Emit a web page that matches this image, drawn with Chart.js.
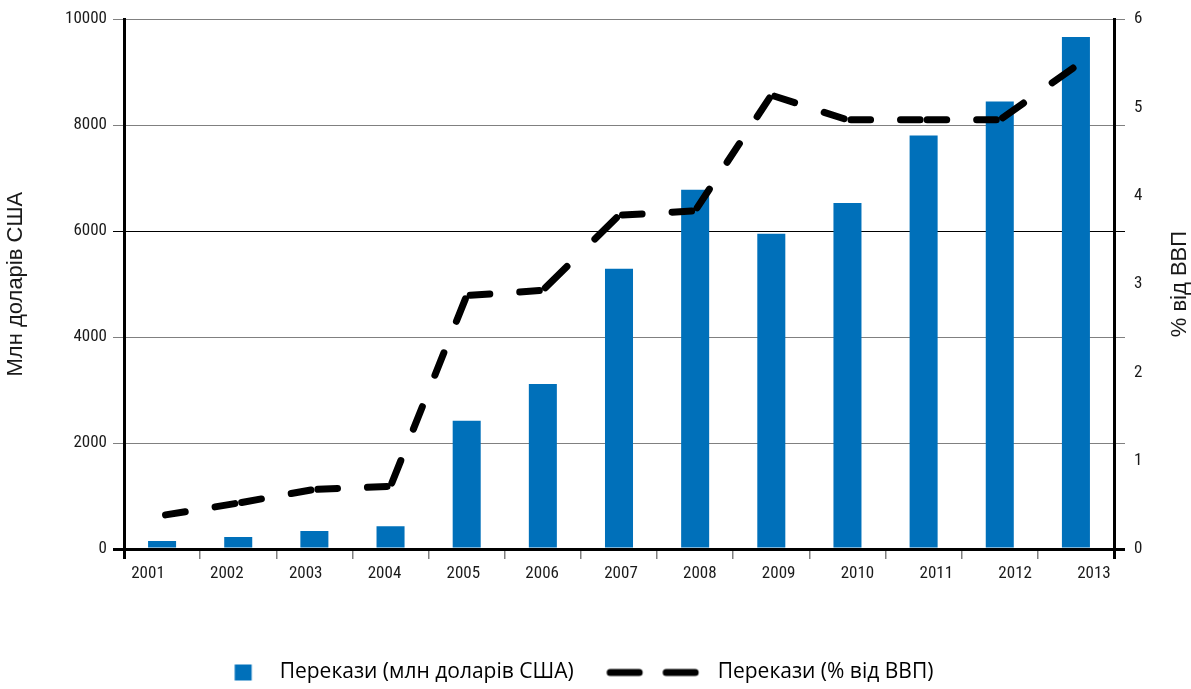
<!DOCTYPE html>
<html>
<head>
<meta charset="utf-8">
<script src="https://cdn.jsdelivr.net/npm/chart.js@4.4.1/dist/chart.umd.min.js"></script>
<style>
html,body{margin:0;padding:0;background:#ffffff;}
canvas{display:block;}
</style>
</head>
<body>
<canvas id="chart" width="1191" height="689"></canvas>
<script>
// ---------------- DATA ----------------
const years = ['2001','2002','2003','2004','2005','2006','2007','2008','2009','2010','2011','2012','2013'];
const remittancesUsd = [150, 225, 340, 430, 2420, 3115, 5290, 6780, 5950, 6530, 7805, 8445, 9665];
const remittancesGdp = [0.38, 0.52, 0.675, 0.71, 2.87, 2.93, 3.78, 3.83, 5.14, 4.86, 4.86, 4.86, 5.47];
const leftTickValues = [0, 2000, 4000, 6000, 8000, 10000];
const rightTickValues = [0, 1, 2, 3, 4, 5, 6];
const legendLabels = ['Перекази (млн доларів США)', 'Перекази (% від ВВП)'];
const leftTitle = 'Млн доларів США';
const rightTitle = '% від ВВП';

// ---------------- STYLE ----------------
const BAR_COLOR = '#0070ba';
const TEXT_COLOR = '#1a1a1a';
const GRID_GRAY = '#808080';
const TICK_FONT = "'Roboto Condensed', 'Liberation Sans Narrow', sans-serif";
const LEGEND_FONT = "'Open Sans', 'Noto Sans', sans-serif";
const TITLE_FONT = "'Liberation Sans', Arial, sans-serif";
const TICK_SIZE = 17, LEGEND_SIZE = 21, TITLE_SIZE = 22;
const LINE_W = 7;

// per-segment dash: every segment starts and ends with a dash
function segDash(ctx) {
  const L = Math.hypot(ctx.p1.x - ctx.p0.x, ctx.p1.y - ctx.p0.y);
  const D0 = 29, G0 = 25;
  const n = Math.max(1, Math.round((L + G0) / (D0 + G0)));
  const s = L / (n * D0 + (n - 1) * G0);
  return [Math.max(0.1, s * D0 - LINE_W), s * G0 + LINE_W];
}
function segOffset(ctx) { return -LINE_W / 2 + ctx.p0DataIndex * 1e-4; }

// ---------------- LEGEND LAYOUT ----------------
const LEG_PAD = 40, LEG_RIGHT = 1169, TEXT1_X = 279, TEXT2_X = 717;
const mctx = document.createElement('canvas').getContext('2d');
mctx.font = LEGEND_SIZE + 'px ' + LEGEND_FONT;
const w1 = mctx.measureText(legendLabels[0]).width;
const w2raw = mctx.measureText(legendLabels[1]).width;
const spW = mctx.measureText(' ').width || 5;
const nSp = Math.max(0, Math.round((LEG_RIGHT - LEG_PAD - 2 * TEXT1_X - w1 - w2raw) / spW));
const BOX_W = Math.max(20, TEXT2_X - TEXT1_X - w1 - LEG_PAD - LEGEND_SIZE / 2);

function makeIcon(cx, left, right, draw) {
  const h = Math.ceil(Math.max(Math.abs(left - cx), Math.abs(right - cx))) + 2;
  const c = document.createElement('canvas');
  c.width = 2 * h; c.height = 20;
  const g = c.getContext('2d');
  draw(g, cx - h);
  return c;
}
const cx1 = TEXT1_X - LEGEND_SIZE / 2 - BOX_W / 2;
const cx2 = TEXT2_X - LEGEND_SIZE / 2 - BOX_W / 2;
const icon1 = makeIcon(cx1, 234, 251, (g, o) => {
  g.fillStyle = BAR_COLOR;
  g.fillRect(234 - o, 2, 17, 16);
});
const icon2 = makeIcon(cx2, 606, 698, (g, o) => {
  g.strokeStyle = '#000';
  g.lineWidth = LINE_W;
  g.lineCap = 'round';
  g.beginPath();
  g.moveTo(606 + LINE_W / 2 - o, 10); g.lineTo(642 - LINE_W / 2 - o, 10);
  g.moveTo(662 + LINE_W / 2 - o, 10); g.lineTo(698 - LINE_W / 2 - o, 10);
  g.stroke();
});

const rightTitlePlugin = {
  id: 'rightTitle',
  afterDraw(chart) {
    const {ctx, chartArea} = chart;
    const s = chart.scales.y1;
    ctx.save();
    ctx.font = TITLE_SIZE + 'px ' + TITLE_FONT;
    ctx.fillStyle = TEXT_COLOR;
    ctx.textAlign = 'center';
    ctx.textBaseline = 'middle';
    ctx.translate(s.right + 11, (chartArea.top + chartArea.bottom) / 2);
    ctx.rotate(-Math.PI / 2);
    ctx.fillText(rightTitle, 0, 0);
    ctx.restore();
  }
};

const gridColor = c => (c.tick && (c.tick.value === 0 || c.tick.value === 6000)) ? '#000000' : GRID_GRAY;
const gridWidth = c => (c.tick && c.tick.value === 0) ? 3 : 1;
const xEdge = c => (c.index === undefined || c.index === 0 || c.index >= years.length);

new Chart(document.getElementById('chart'), {
  type: 'bar',
  data: {
    labels: years,
    datasets: [
      {
        type: 'line',
        label: legendLabels[1],
        data: remittancesGdp,
        yAxisID: 'y1',
        xAxisID: 'x',
        order: 0,
        borderColor: '#000000',
        borderWidth: LINE_W,
        borderCapStyle: 'round',
        borderJoinStyle: 'round',
        pointRadius: 0,
        tension: 0,
        fill: false,
        segment: { borderDash: segDash, borderDashOffset: segOffset }
      },
      {
        type: 'bar',
        label: legendLabels[0],
        data: remittancesUsd,
        yAxisID: 'y',
        xAxisID: 'x',
        order: 1,
        backgroundColor: BAR_COLOR,
        borderWidth: 0,
        barPercentage: 0.368,
        categoryPercentage: 1.0
      }
    ]
  },
  options: {
    responsive: false,
    animation: false,
    devicePixelRatio: 1,
    layout: { padding: { top: 3, right: 22, bottom: -4, left: 0 } },
    plugins: {
      tooltip: { enabled: false },
      legend: {
        position: 'bottom',
        align: 'center',
        labels: {
          usePointStyle: true,
          pointStyleWidth: BOX_W,
          boxWidth: BOX_W,
          padding: LEG_PAD,
          color: TEXT_COLOR,
          font: { family: LEGEND_FONT, size: LEGEND_SIZE },
          generateLabels: () => [
            { text: legendLabels[0], pointStyle: icon1, fillStyle: BAR_COLOR, strokeStyle: 'rgba(0,0,0,0)', lineWidth: 0, datasetIndex: 1, hidden: false },
            { text: legendLabels[1] + ' '.repeat(nSp), pointStyle: icon2, fillStyle: '#000', strokeStyle: 'rgba(0,0,0,0)', lineWidth: 0, datasetIndex: 0, hidden: false }
          ]
        }
      }
    },
    scales: {
      x: {
        type: 'category',
        position: 'bottom',
        weight: 0,
        offset: true,
        grid: {
          offset: true, drawOnChartArea: false, drawTicks: true, tickLength: 10,
          color: c => xEdge(c) ? '#000000' : GRID_GRAY,
          lineWidth: c => xEdge(c) ? 3 : 1.5
        },
        border: { display: true, color: '#000000', width: 3 },
        ticks: { display: false }
      },
      xl: {
        type: 'linear',
        position: 'bottom',
        weight: 1,
        bounds: 'data',
        offset: false,
        min: -0.3044,
        max: 12.254,
        grid: { display: false, drawTicks: false, offset: false },
        border: { display: false },
        afterBuildTicks: s => { s.ticks = years.map((y, i) => ({ value: i })); },
        ticks: {
          autoSkip: false, maxRotation: 0, minRotation: 0, padding: 5,
          color: TEXT_COLOR, font: { family: TICK_FONT, size: TICK_SIZE },
          callback: (v, i) => years[i]
        },
        afterFit: s => { s.height = 63; }
      },
      y: {
        position: 'left',
        weight: 0,
        min: leftTickValues[0],
        max: leftTickValues[leftTickValues.length - 1],
        ticks: {
          stepSize: leftTickValues[1] - leftTickValues[0], padding: 6,
          color: TEXT_COLOR, font: { family: TICK_FONT, size: TICK_SIZE },
          callback: v => String(v)
        },
        grid: { color: gridColor, lineWidth: gridWidth, drawTicks: true, tickLength: 11 },
        border: { display: true, color: '#000000', width: 3 },
        title: {
          display: true, text: leftTitle, color: TEXT_COLOR,
          font: { family: TITLE_FONT, size: TITLE_SIZE },
          padding: { top: 3, bottom: 0 }
        },
        afterFit: s => { s.width = 124; }
      },
      yR: {
        position: 'right',
        weight: 0,
        min: leftTickValues[0],
        max: leftTickValues[leftTickValues.length - 1],
        ticks: { display: false, stepSize: leftTickValues[1] - leftTickValues[0] },
        grid: { drawOnChartArea: false, drawTicks: true, tickLength: 11, color: gridColor, lineWidth: gridWidth },
        border: { display: true, color: '#000000', width: 3 }
      },
      y1: {
        position: 'right',
        weight: 1,
        min: rightTickValues[0],
        max: rightTickValues[rightTickValues.length - 1],
        ticks: {
          stepSize: rightTickValues[1] - rightTickValues[0], padding: 9,
          color: TEXT_COLOR, font: { family: TICK_FONT, size: TICK_SIZE },
          callback: v => String(v)
        },
        grid: { display: false, drawTicks: false },
        border: { display: false },
        afterFit: s => { s.width = 44; }
      }
    }
  },
  plugins: [rightTitlePlugin]
});
</script>
</body>
</html>
